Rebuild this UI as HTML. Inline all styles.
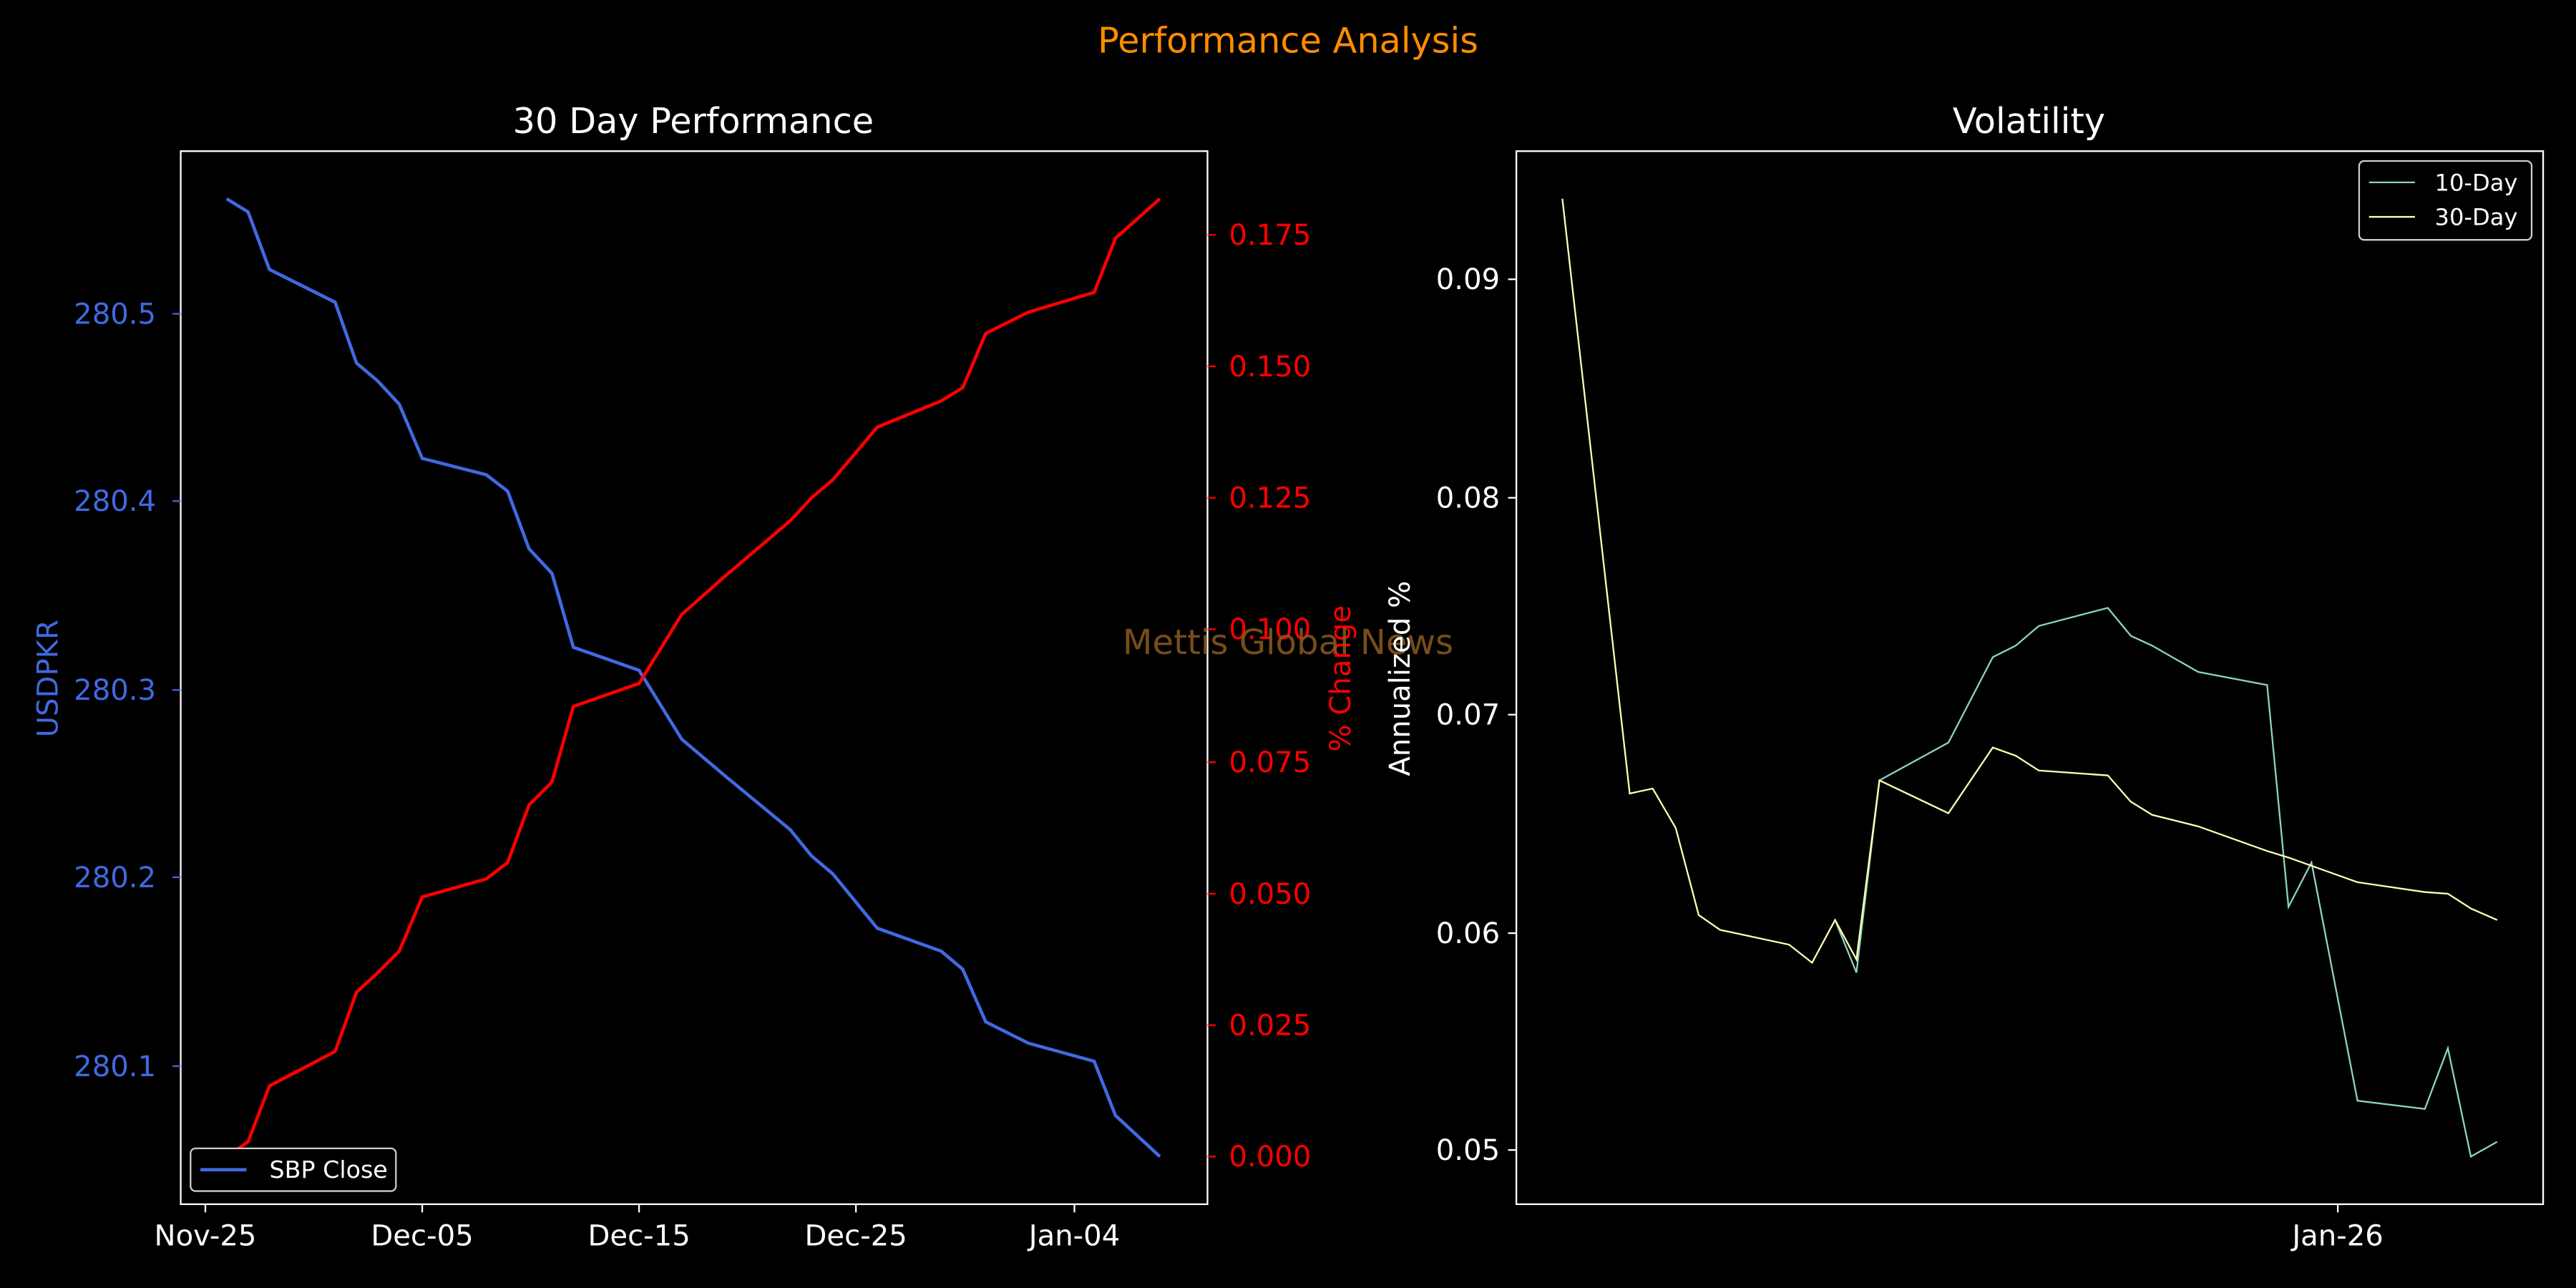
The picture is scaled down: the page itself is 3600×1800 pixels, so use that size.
<!DOCTYPE html>
<html><head><meta charset="utf-8"><style>
html,body{margin:0;padding:0;background:#000;}
svg{display:block;}
text{font-family:"DejaVu Sans","Liberation Sans",sans-serif;}
</style></head><body>
<svg width="3600" height="1800" viewBox="0 0 1568 784" xmlns="http://www.w3.org/2000/svg">
<rect width="1568" height="784" fill="#000"/>
<text x="784" y="32" font-size="21.5" fill="#FF8C00" text-anchor="middle">Performance Analysis</text>

<!-- Left plot -->
<text x="422" y="81" font-size="21.5" fill="#fff" text-anchor="middle">30 Day Performance</text>
<rect x="110" y="92" width="625" height="641" fill="none" stroke="#fff" stroke-width="1"/>
<g stroke="#fff" stroke-width="1">
<line x1="125" y1="733" x2="125" y2="738"/><line x1="257" y1="733" x2="257" y2="738"/><line x1="389" y1="733" x2="389" y2="738"/><line x1="521" y1="733" x2="521" y2="738"/><line x1="654" y1="733" x2="654" y2="738"/>
</g>
<g font-size="17.5" fill="#fff" text-anchor="middle">
<text x="125" y="758">Nov-25</text><text x="257" y="758">Dec-05</text><text x="389" y="758">Dec-15</text><text x="521" y="758">Dec-25</text><text x="654" y="758">Jan-04</text>
</g>
<g stroke="#4169E1"><line x1="105" y1="191" x2="110" y2="191"/><line x1="105" y1="305" x2="110" y2="305"/><line x1="105" y1="420" x2="110" y2="420"/><line x1="105" y1="534" x2="110" y2="534"/><line x1="105" y1="649" x2="110" y2="649"/></g>
<g font-size="17.5" fill="#4169E1" text-anchor="end">
<text x="95" y="197">280.5</text><text x="95" y="311">280.4</text><text x="95" y="426">280.3</text><text x="95" y="540">280.2</text><text x="95" y="655">280.1</text>
</g>
<text transform="translate(35,413) rotate(-90)" font-size="17.5" fill="#4169E1" text-anchor="middle">USDPKR</text>
<g stroke="#f00"><line x1="735" y1="143" x2="740" y2="143"/><line x1="735" y1="223" x2="740" y2="223"/><line x1="735" y1="303" x2="740" y2="303"/><line x1="735" y1="383" x2="740" y2="383"/><line x1="735" y1="464" x2="740" y2="464"/><line x1="735" y1="544" x2="740" y2="544"/><line x1="735" y1="624" x2="740" y2="624"/><line x1="735" y1="704" x2="740" y2="704"/></g>
<g font-size="17.5" fill="#f00">
<text x="748" y="149">0.175</text><text x="748" y="229">0.150</text><text x="748" y="309">0.125</text><text x="748" y="389">0.100</text><text x="748" y="470">0.075</text><text x="748" y="550">0.050</text><text x="748" y="630">0.025</text><text x="748" y="710">0.000</text>
</g>
<text transform="translate(822,413) rotate(-90)" font-size="17.5" fill="#f00" text-anchor="middle">% Change</text>
<polyline fill="none" stroke="#4169E1" stroke-width="2" points="138,121 151,129 164,164 204,184 217,221 230,232 243,246 257,279 296,289 309,299 322,334 336,349 349,394 389,408 415,450 441,472 481,505 494,521 507,532 534,565 573,579 586,590 600,622 626,635 666,646 679,679 706,704"/>
<polyline fill="none" stroke="#f00" stroke-width="2" points="138,704 151,695 164,661 204,640 217,604 230,592 243,579 257,546 296,535 309,525 322,490 336,476 349,430 389,416 415,374 441,351 481,317 494,303 507,292 534,260 573,244 586,236 600,203 626,190 666,178 679,145 706,121"/>
<rect x="116" y="699" width="125" height="26" rx="3" fill="#000" stroke="#ccc" stroke-width="1"/>
<line x1="122" y1="712" x2="150" y2="712" stroke="#4169E1" stroke-width="2"/>
<text x="164" y="717" font-size="14.5" fill="#fff">SBP Close</text>

<text x="784" y="398" font-size="21" fill="#8B5A1F" fill-opacity="0.85" text-anchor="middle">Mettis Global News</text>

<!-- Right plot -->
<text x="1235" y="81" font-size="21.5" fill="#fff" text-anchor="middle">Volatility</text>
<rect x="923" y="92" width="625" height="641" fill="none" stroke="#fff" stroke-width="1"/>
<line x1="1423" y1="733" x2="1423" y2="738" stroke="#fff"/>
<text x="1423" y="758" font-size="17.5" fill="#fff" text-anchor="middle">Jan-26</text>
<g stroke="#fff"><line x1="918" y1="170" x2="923" y2="170"/><line x1="918" y1="303" x2="923" y2="303"/><line x1="918" y1="435" x2="923" y2="435"/><line x1="918" y1="568" x2="923" y2="568"/><line x1="918" y1="700" x2="923" y2="700"/></g>
<g font-size="17.5" fill="#fff" text-anchor="end">
<text x="913" y="176">0.09</text><text x="913" y="309">0.08</text><text x="913" y="441">0.07</text><text x="913" y="574">0.06</text><text x="913" y="706">0.05</text>
</g>
<text transform="translate(858,413) rotate(-90)" font-size="17.5" fill="#fff" text-anchor="middle">Annualized %</text>
<polyline fill="none" stroke="#8DD3C7" stroke-width="1" points="1117,560 1130,592 1144,475 1186,452 1213,400 1227,393 1241,381 1283,370 1297,387 1310,393 1338,409 1380,417 1393,552 1407,525 1435,670 1476,675 1490,638 1504,704 1520,695"/>
<polyline fill="none" stroke="#FFFFB3" stroke-width="1" points="951,121 992,483 1006,480 1020,504 1034,557 1047,566 1089,575 1103,586 1117,560 1130,584 1144,475 1186,495 1213,455 1227,460 1241,469 1283,472 1297,488 1310,496 1338,503 1380,518 1393,522 1435,537 1476,543 1490,544 1504,553 1520,560"/>
<rect x="1436" y="98" width="105" height="48" rx="3" fill="#000" stroke="#ccc" stroke-width="1"/>
<line x1="1442" y1="111" x2="1470" y2="111" stroke="#8DD3C7" stroke-width="1"/>
<text x="1482" y="116" font-size="14" fill="#fff">10-Day</text>
<line x1="1442" y1="132" x2="1470" y2="132" stroke="#FFFFB3" stroke-width="1"/>
<text x="1482" y="137" font-size="14" fill="#fff">30-Day</text>
</svg>
</body></html>
